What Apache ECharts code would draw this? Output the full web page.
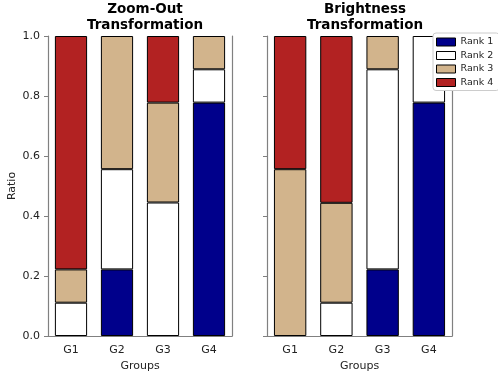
<!DOCTYPE html>
<html><head><meta charset="utf-8">
<script src="https://cdn.jsdelivr.net/npm/echarts@6/dist/echarts.min.js"></script>
<style>html,body{margin:0;padding:0;background:#fff}#c{width:498px;height:375px}</style>
</head><body><div id="c"></div>
<script>
const categories = ['G1','G2','G3','G4'];
const titles = ['Zoom-Out\nTransformation','Brightness\nTransformation'];
const rankNames = ['Rank 1','Rank 2','Rank 3','Rank 4'];
const rankColors = ['#00008B','#FFFFFF','#D2B48C','#B22222'];
// Zoom-Out values per rank (G1..G4)
const zoomRank1 = [0, 0.222, 0, 0.778];
const zoomRank2 = [0.111, 0.334, 0.445, 0.111];
const zoomRank3 = [0.111, 0.444, 0.333, 0.111];
const zoomRank4 = [0.778, 0, 0.222, 0];
// Brightness values per rank (G1..G4)
const brightRank1 = [0, 0, 0.222, 0.778];
const brightRank2 = [0, 0.111, 0.667, 0.222];
const brightRank3 = [0.556, 0.333, 0.111, 0];
const brightRank4 = [0.444, 0.556, 0, 0];
const yTicks = [0, 0.2, 0.4, 0.6, 0.8, 1.0];

const panels = [
  [zoomRank1, zoomRank2, zoomRank3, zoomRank4],
  [brightRank1, brightRank2, brightRank3, brightRank4]
];
const font = 'DejaVu Sans';
const spine = '#808080';
const grids = [
  {left:48, right:266, top:36, bottom:39, outerBoundsMode:'none', containLabel:false},
  {left:267, right:46, top:36, bottom:39, outerBoundsMode:'none', containLabel:false}
];
const xAxes = [], yAxes = [], series = [];
grids.forEach((g, i) => {
  xAxes.push({type:'category', gridIndex:i, data:categories,
    name:'Groups', nameLocation:'middle', nameGap:25,
    nameTextStyle:{fontFamily:font, fontSize:11, color:'#222'},
    axisLine:{lineStyle:{color:spine, width:1.2}},
    axisTick:{alignWithLabel:true, length:4, lineStyle:{color:spine}},
    axisLabel:{fontFamily:font, fontSize:11, color:'#222', margin:9}
  });
  yAxes.push({type:'value', gridIndex:i, min:0, max:1, interval:0.2,
    name: i===0 ? 'Ratio' : '', nameLocation:'middle', nameGap:30,
    nameTextStyle:{fontFamily:font, fontSize:11, color:'#222'},
    axisLine:{show:true, lineStyle:{color:spine, width:1.2}},
    axisTick:{show:true, length:4, lineStyle:{color:spine}},
    axisLabel:{show:i===0, fontFamily:font, fontSize:11, color:'#222', margin:8,
      formatter:v => yTicks.includes(+v.toFixed(1)) ? v.toFixed(1) : ''},
    splitLine:{show:false}
  });
  yAxes.push({type:'value', gridIndex:i, min:0, max:1, position:'right',
    axisLine:{show:true, lineStyle:{color:spine, width:1.2}},
    axisTick:{show:false}, axisLabel:{show:false}, splitLine:{show:false}
  });
  panels[i].forEach((vals, r) => {
    series.push({type:'bar', name:rankNames[r], xAxisIndex:i, yAxisIndex:i*2,
      stack:'s'+i, barWidth:'70%', data:vals.map(v => v===0 ? null : v),
      itemStyle:{color:rankColors[r], borderColor:'#000', borderWidth:1},
      emphasis:{disabled:true}, animation:false
    });
  });
});
const chart = echarts.init(document.getElementById('c'));
chart.setOption({
  animation:false,
  title: titles.map((t, i) => ({text:t, left: i===0 ? 140 : 360, top:-4, textAlign:'center',
    textStyle:{fontFamily:font, fontSize:13.5, fontWeight:'bold', color:'#000', lineHeight:16}})),
  legend:{data:rankNames, orient:'vertical', left:433, top:33, itemWidth:19, itemHeight:8, itemGap:3.5,
    icon:'rect',
    backgroundColor:'#fff', borderColor:'#ccc', borderWidth:1, borderRadius:3, padding:[4,6,3,3],
    textStyle:{fontFamily:font, fontSize:9.5, color:'#222'},
    itemStyle:{borderColor:'#000', borderWidth:1}},
  grid:grids, xAxis:xAxes, yAxis:yAxes, series:series
});
</script></body></html>
